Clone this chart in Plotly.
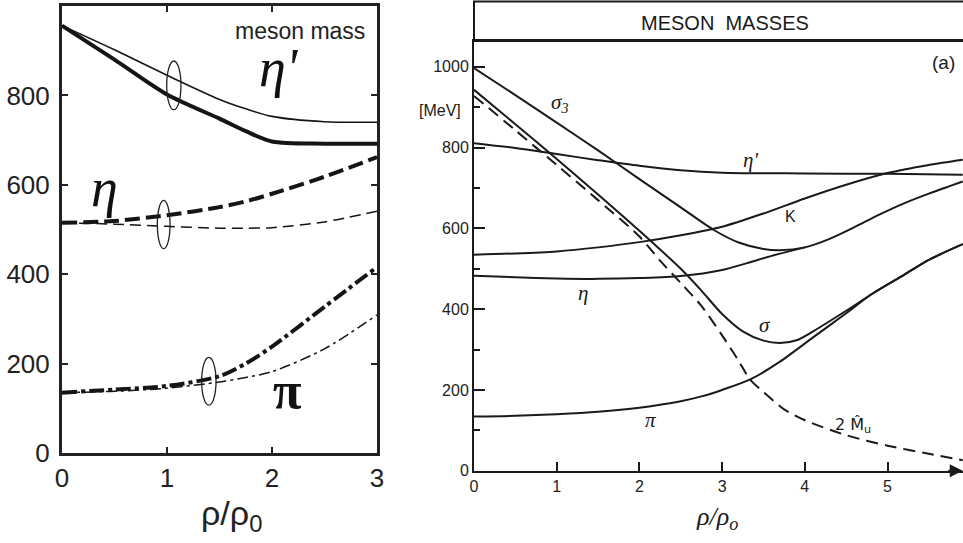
import plotly.graph_objects as go

W, H = 963, 543

# ---------------- Left panel data (rho/rho0, MeV) ----------------
left_x = [0, 0.5, 1, 1.5, 1.75, 2, 2.5, 3]
etap_thick = [956, 880, 802, 748, 720, 697, 692, 692]
etap_thin = [956, 902, 845, 791, 770, 753, 741, 740]
eta_thick = [515, 519, 532, 550, 563, 580, 618, 662]
eta_thin = [515, 512, 507, 503, 503, 504, 517, 541]
pi_thick = [135, 142, 150, 172, 200, 238, 327, 416]
pi_thin = [135, 138, 145, 159, 169, 182, 233, 309]

left_xticks = [0, 1, 2, 3]
left_yticks = [0, 200, 400, 600, 800]

# ---------------- Right panel data ----------------
s3_x = [0, 0.5, 1, 1.5, 2, 2.5, 2.9, 3.2, 3.5, 3.7, 4.0, 4.3, 4.6, 4.9, 5.2, 5.5, 5.91]
s3_v = [997, 930, 862, 793, 722, 652, 596, 565, 549, 546, 553, 574, 603, 634, 662, 686, 716]

sig_x = [0, 0.5, 1, 1.5, 2, 2.5, 2.75, 3, 3.25, 3.5, 3.7, 3.9, 4.1, 4.5, 4.83, 5.2, 5.5, 5.91]
sig_v = [943, 858, 772, 684, 594, 500, 446, 388, 345, 322, 316, 323, 345, 396, 440, 485, 522, 561]

pi_x = [0, 0.5, 1, 1.5, 2, 2.5, 2.75, 3, 3.34, 3.7, 4.1, 4.5, 4.83, 5.2, 5.5, 5.91]
pi_v = [134, 136, 140, 146, 156, 172, 184, 200, 226, 270, 330, 390, 440, 485, 522, 561]

k_x = [0, 0.5, 1, 1.5, 2, 2.5, 3, 3.5, 4, 4.5, 5, 5.5, 5.91]
k_v = [535, 538, 543, 553, 566, 583, 604, 637, 674, 708, 737, 757, 770]

etap_x = [0, 0.5, 1, 1.5, 2, 2.5, 3, 4, 5, 5.91]
etap_v = [811, 799, 784, 769, 755, 744, 738, 736, 735, 733]

eta_x = [0, 0.5, 1, 1.5, 2, 2.5, 3, 3.3, 3.6, 4.0]
eta_v = [483, 479, 476, 475, 477, 482, 497, 514, 532, 553]

mu_x = [0, 0.5, 1, 1.5, 2, 2.25, 2.5, 2.75, 3, 3.2, 3.34, 3.5, 3.75, 4, 4.5, 5, 5.5, 5.91]
mu_v = [928, 843, 757, 670, 580, 520, 465, 408, 335, 272, 225, 195, 152, 125, 88, 62, 42, 26]

right_xticks = [0, 1, 2, 3, 4, 5]
right_yticks = [0, 200, 400, 600, 800, 1000]

fig = go.Figure()

def left_line(y, width, dash):
    fig.add_trace(go.Scatter(x=left_x, y=y, mode="lines", xaxis="x", yaxis="y",
                             line=dict(color="#151515", width=width, dash=dash,
                                       shape="spline", smoothing=0.8),
                             showlegend=False, hoverinfo="skip"))

left_line(etap_thick, 4, "solid")
left_line(etap_thin, 1.6, "solid")
left_line(eta_thick, 4, "15px,6px")
left_line(eta_thin, 1.5, "11px,6px")
left_line(pi_thick, 4, "15px,4px,4px,4px")
left_line(pi_thin, 1.5, "11px,4px,3px,4px")

def right_line(x, y, dash="solid"):
    fig.add_trace(go.Scatter(x=x, y=y, mode="lines", xaxis="x2", yaxis="y2",
                             line=dict(color="#1a1a1a", width=2, dash=dash,
                                       shape="spline", smoothing=0.8),
                             showlegend=False, hoverinfo="skip"))

right_line(s3_x, s3_v)
right_line(sig_x, sig_v)
right_line(pi_x, pi_v)
right_line(k_x, k_v)
right_line(etap_x, etap_v)
right_line(eta_x, eta_v)
right_line(mu_x, mu_v, "12px,7px")

def px_x(p):
    return p / W

def px_y(p):
    return 1 - p / H

axis_font = dict(family="Liberation Sans, Arial", size=26, color="#222")
rfont = dict(family="Liberation Sans, Arial", size=16, color="#222")

fig.update_layout(
    width=W, height=H,
    margin=dict(l=0, r=0, t=0, b=0, pad=0),
    paper_bgcolor="white", plot_bgcolor="white",
    showlegend=False,
    xaxis=dict(domain=[px_x(62), px_x(377)], range=[0, 3], anchor="y", automargin=False,
               tickvals=left_xticks, ticks="inside", ticklen=6, tickwidth=2,
               tickcolor="#222", showline=True, linewidth=3, linecolor="#222",
               mirror="ticks", showgrid=False, zeroline=False, tickfont=axis_font),
    yaxis=dict(domain=[px_y(453), px_y(6)], range=[0, 1000], anchor="x", automargin=False,
               tickvals=left_yticks, ticks="inside", ticklen=6, tickwidth=2,
               tickcolor="#222", showline=True, linewidth=3, linecolor="#222",
               mirror="ticks", showgrid=False, zeroline=False, tickfont=axis_font,
               ticklabelstandoff=4),
    xaxis2=dict(domain=[px_x(474), 1.0], range=[0, 5.913], anchor="y2", automargin=False,
                tickvals=right_xticks, ticks="inside", ticklen=9, tickwidth=2,
                tickcolor="#1a1a1a", showline=True, linewidth=2, linecolor="#1a1a1a",
                mirror=True, showgrid=False, zeroline=False, tickfont=rfont),
    yaxis2=dict(domain=[px_y(470.7), px_y(41)], range=[0, 1064], anchor="x2", automargin=False,
                tickvals=right_yticks, ticks="inside", ticklen=11, tickwidth=2,
                tickcolor="#1a1a1a", showline=True, linewidth=2, linecolor="#1a1a1a",
                showgrid=False, zeroline=False, tickfont=rfont,
                minor=dict(dtick=100, tick0=0, ticks="inside", ticklen=6,
                           tickwidth=1.5, tickcolor="#1a1a1a", showgrid=False)),
)

# ellipses marking pairs on left panel
ellipses = [
    (0.997, 1.133, 768, 877),
    (0.908, 1.029, 457, 565),
    (1.33, 1.467, 107, 214),
]
for x0, x1, y0, y1 in ellipses:
    fig.add_shape(type="circle", xref="x", yref="y", x0=x0, x1=x1, y0=y0, y1=y1,
                  line=dict(color="#222", width=1.3))

# title band of right panel
fig.add_shape(type="rect", xref="paper", yref="paper",
              x0=px_x(474), x1=1.02, y0=px_y(41), y1=px_y(1.5),
              line=dict(color="#1a1a1a", width=2), fillcolor="rgba(0,0,0,0)")

ann = []
serif = "Liberation Serif, Times New Roman, serif"

def txt(text, px, py, font):
    ann.append(dict(text=text, x=px_x(px), y=px_y(py), xref="paper", yref="paper",
                    xanchor="center", yanchor="middle", showarrow=False, font=font))

txt("meson mass", 300, 31, dict(family="Liberation Sans, Arial", size=23, color="#222"))
txt("<i>η'</i>", 279, 68, dict(family=serif, size=54, color="#111"))
txt("<i>η</i>", 104, 188, dict(family=serif, size=54, color="#111"))
txt("<b>π</b>", 287, 390, dict(family=serif, size=52, color="#111"))
txt("ρ/ρ<sub>0</sub>", 231, 515, dict(family="Liberation Sans, Arial", size=34, color="#222"))

# right panel texts
txt("MESON  MASSES", 725, 23, dict(family="Liberation Sans, Arial", size=20, color="#1a1a1a"))
txt("(a)", 943, 62, dict(family="Liberation Sans, Arial", size=19, color="#1a1a1a"))
txt("[MeV]", 440, 110, dict(family="Liberation Sans, Arial", size=16, color="#1a1a1a"))
txt("<i>ρ/ρ<sub>o</sub></i>", 717, 518, dict(family=serif, size=26, color="#1a1a1a"))
lab_font = dict(family=serif, size=21, color="#1a1a1a")
txt("<i>σ<sub>3</sub></i>", 560, 103, lab_font)
txt("<i>η'</i>", 750, 160, lab_font)
txt("K", 790, 216, dict(family="Liberation Sans, Arial", size=16, color="#1a1a1a"))
txt("<i>η</i>", 583, 293, lab_font)
txt("<i>π</i>", 650, 420, lab_font)
txt("<i>σ</i>", 765, 325, lab_font)
txt("2 M\u0302<sub>u</sub>", 853, 425, dict(family="DejaVu Sans", size=16, color="#1a1a1a"))

# axis arrow head
ann.append(dict(x=5.91, y=0, xref="x2", yref="y2", ax=-16, ay=0, text="",
                showarrow=True, arrowhead=2, arrowsize=1.3, arrowwidth=2, arrowcolor="#1a1a1a"))

fig.update_layout(annotations=ann)
fig.write_html("out.html", config={"displayModeBar": False},
               post_script="document.body.style.margin='0px';document.body.style.overflow='hidden';")
